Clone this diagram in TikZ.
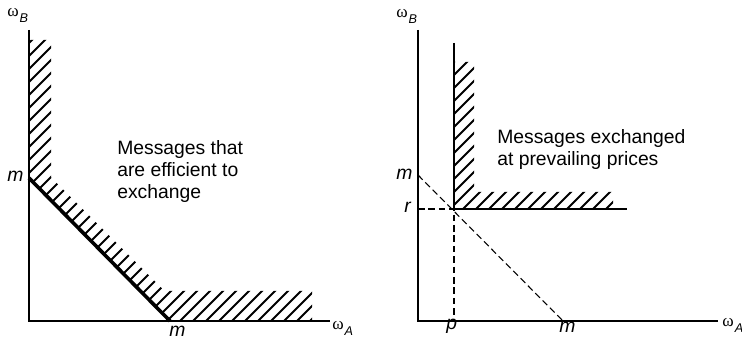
\documentclass[tikz,border=0pt]{standalone}
\usepackage{fontspec}
\setmainfont{Liberation Sans}
\newfontfamily\omfont{Liberation Serif}
\usetikzlibrary{positioning}

\tikzset{
  axis/.style={line width=2.1pt},
  bound/.style={line width=2.7pt},
  hatch/.style={line width=1.4pt},
  guide/.style={line width=0.8pt,dash pattern=on 5pt off 2.8pt},
  lab/.style={inner sep=0pt,font=\fontsize{14.5}{16}\selectfont\itshape},
  txt/.style={inner sep=0pt,align=left,font=\fontsize{14.5}{16.5}\selectfont},
}
\newcommand{\omlab}[1]{{\fontsize{13}{14}\omfont ω}\kern0.8pt\raisebox{-4pt}{\fontsize{9.5}{10}\selectfont\itshape #1}}

\begin{document}
\begin{tikzpicture}[x=0.75pt,y=0.75pt]
  \useasboundingbox (0,0) rectangle (742,345);
  \def\gap{13}
  % left panel
  \coordinate (O1) at (29,24);
  \coordinate (yB1) at (29,315);
  \coordinate (xA1) at (330,24);
  \coordinate (m1b) at (29,167);
  \coordinate (m1a) at (170,24);
  \begin{scope}
    \clip (29,305) -- (m1b) -- (m1a) -- (312,24) -- (312,54) -- (164.6,54)
      -- (51,167.6) -- (51,305) -- cycle;
    \foreach \k in {-25,...,26}
      \draw[hatch] (\k*\gap,0) -- ++(345,345);
  \end{scope}
  \draw[axis] (yB1) -- (O1) -- (xA1);
  \draw[bound] (m1b) -- (m1a);
  \node[lab,anchor=base west] (lm1b) at (7,163) {m};
  \node[lab,anchor=base west] (lm1a) at (169,8) {m};
  \node[inner sep=0pt,anchor=base west] (wB1) at (7,328) {\omlab{B}};
  \node[inner sep=0pt,anchor=base west] (wA1) at (332,15) {\omlab{A}};
  \node[txt,anchor=north west] (msg1) at (117,205)
    {Messages that\\are efficient to\\exchange};
  % right panel
  \coordinate (O2) at (418,24);
  \coordinate (yB2) at (418,315);
  \coordinate (xA2) at (718,24);
  \coordinate (P) at (454,136);
  \coordinate (m2b) at (418,170);
  \coordinate (m2a) at (563,24);
  \coordinate (r2) at (418,136);
  \coordinate (p2) at (454,24);
  \begin{scope}
    \clip (454,283) -- (474,283) -- (474,153) -- (613,153) -- (613,136)
      -- (P) -- cycle;
    \foreach \k in {0,...,40}
      \draw[hatch] (\k*\gap+2,0) -- ++(345,345);
  \end{scope}
  \draw[axis] (yB2) -- (O2) -- (xA2);
  \draw[guide] (m2b) -- (m2a);
  \draw[guide] (r2) -- (P) -- (p2);
  \draw[axis] (454,302) -- (P) -- (627,136);
  \node[lab,anchor=base west] (lm2b) at (396,165) {m};
  \node[lab,anchor=base west] (lr2) at (404,132) {r};
  \node[lab,anchor=base west] (lp2) at (446,15) {p};
  \node[lab,anchor=base west] (lm2a) at (559,12) {m};
  \node[inner sep=0pt,anchor=base west] (wB2) at (396,327) {\omlab{B}};
  \node[inner sep=0pt,anchor=base west] (wA2) at (722,18) {\omlab{A}};
  \node[txt,anchor=north west] (msg2) at (497,216)
    {Messages exchanged\\at prevailing prices};
\end{tikzpicture}
\end{document}
